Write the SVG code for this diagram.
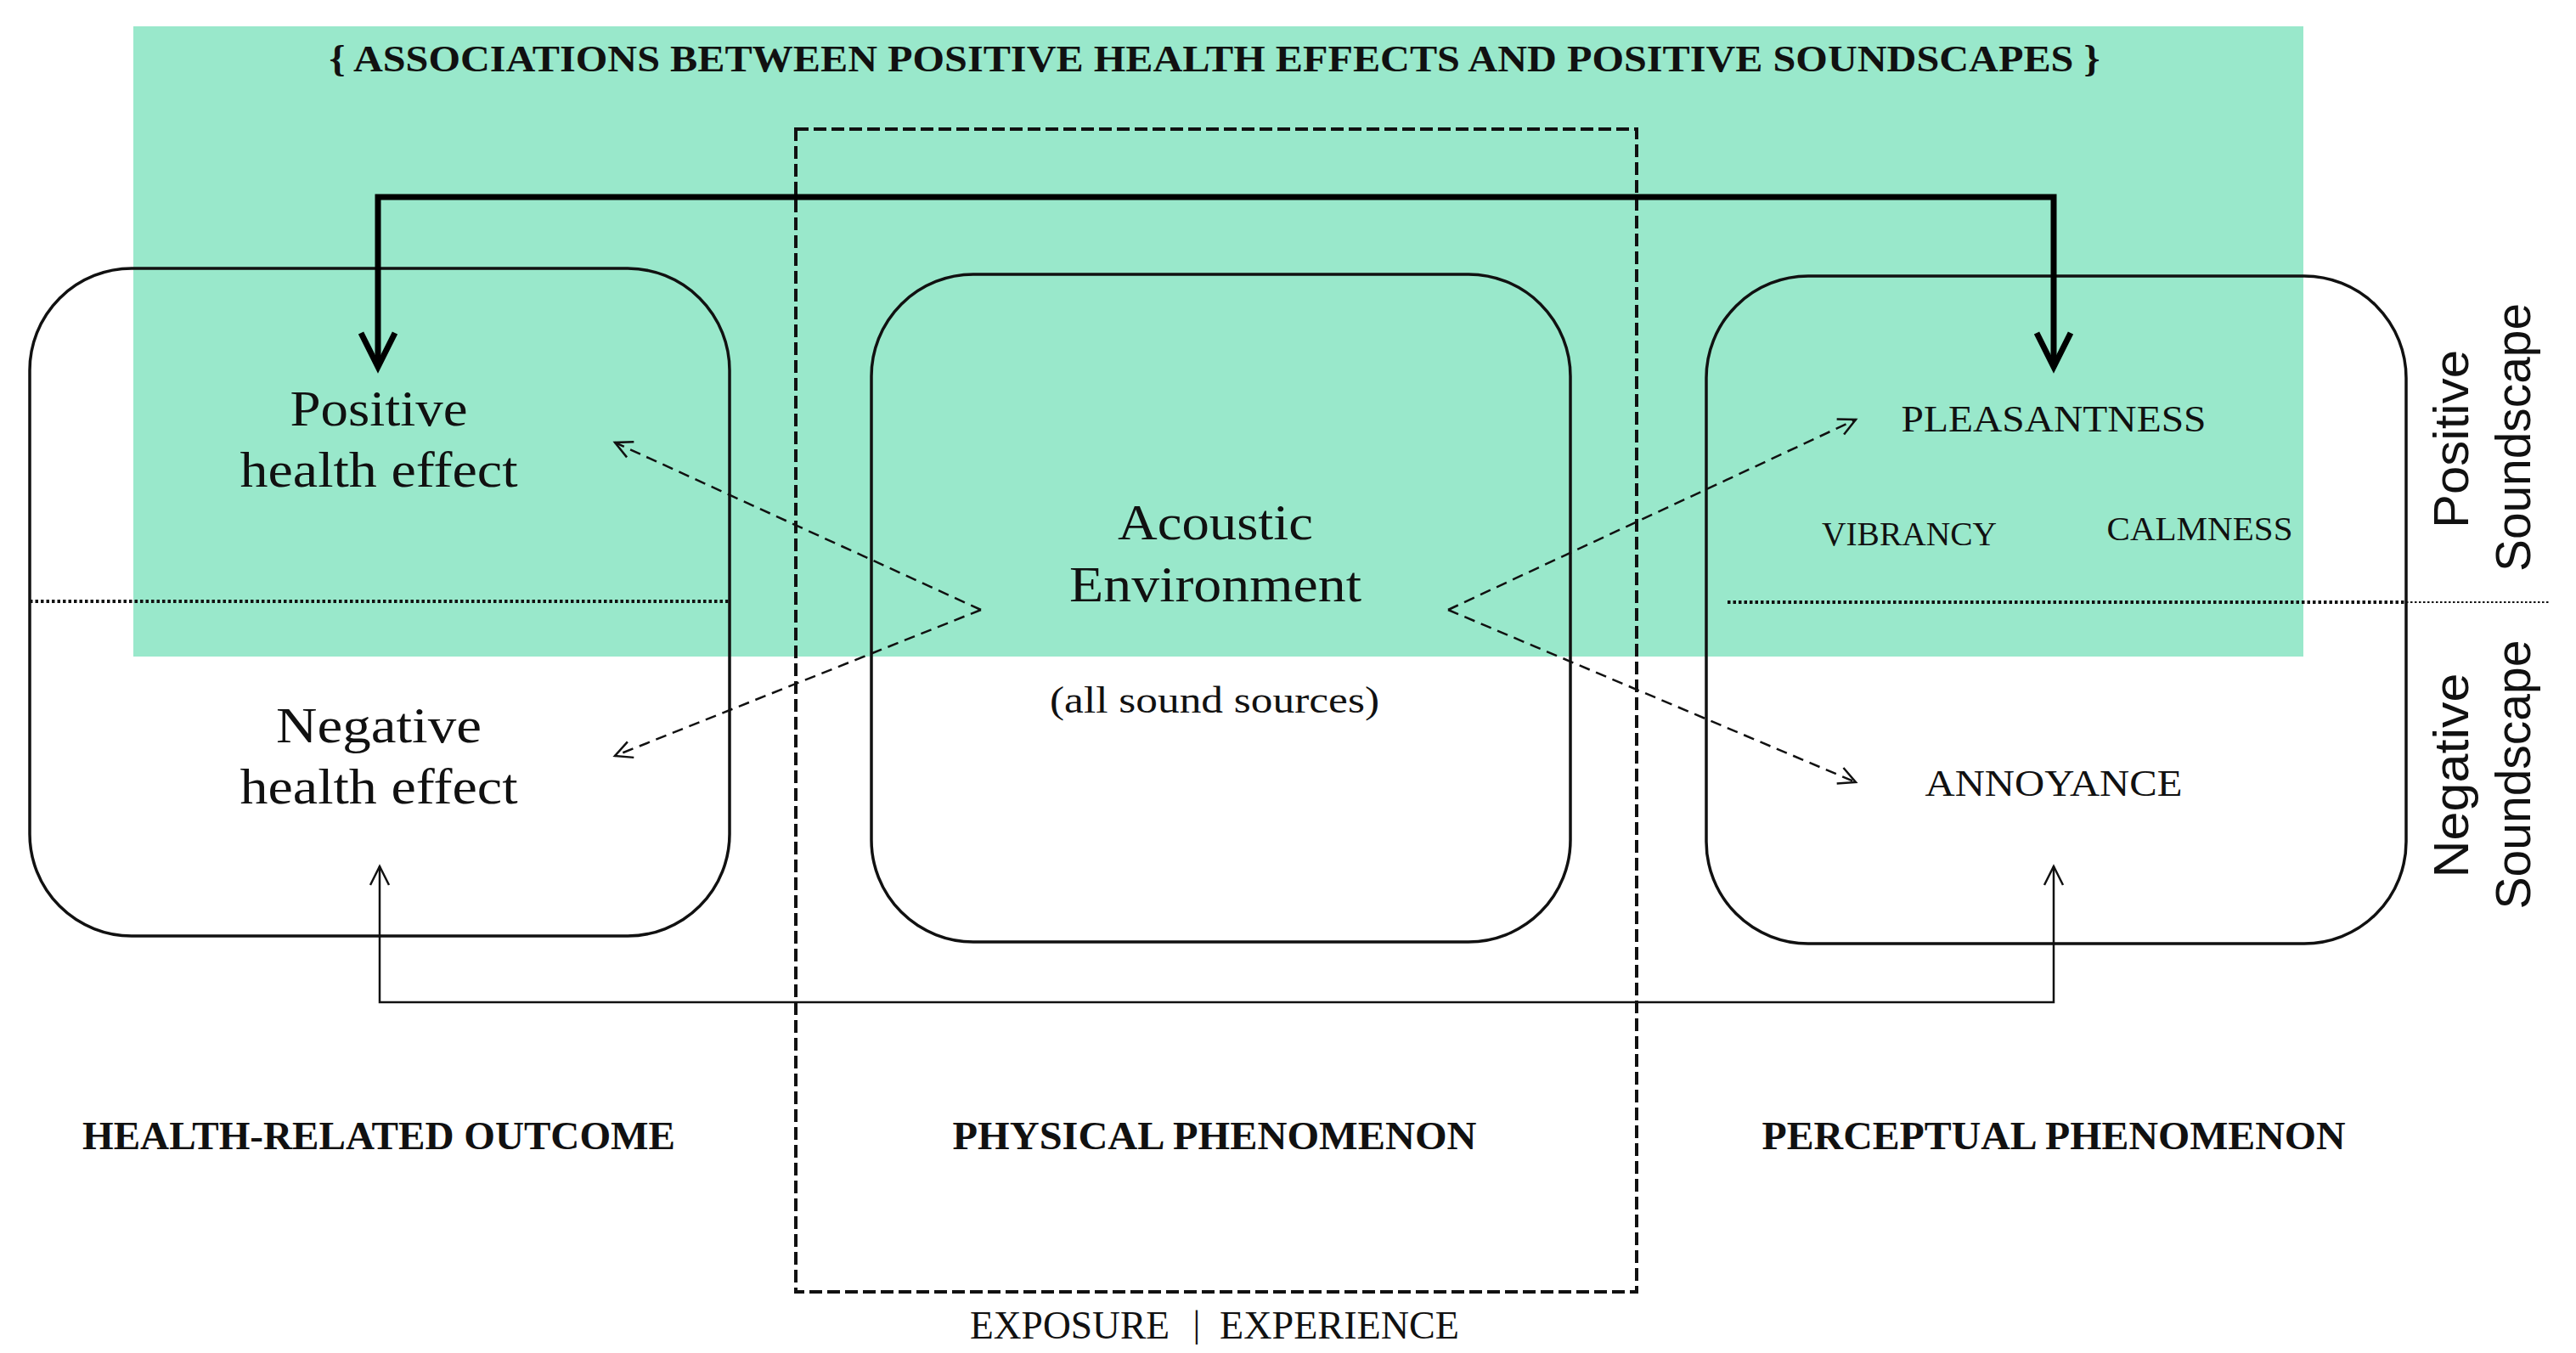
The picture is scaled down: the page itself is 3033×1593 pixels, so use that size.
<svg xmlns="http://www.w3.org/2000/svg" width="3033" height="1593" viewBox="0 0 3033 1593">
<style>
.serif{font-family:"Liberation Serif","Times New Roman",serif;fill:#111;}
.sans{font-family:"Liberation Sans",Arial,sans-serif;fill:#111;}
.b{font-weight:bold;}
.box{fill:none;stroke:#111;stroke-width:3.5;}
.thick{fill:none;stroke:#000;stroke-width:7;}
.thin{fill:none;stroke:#111;stroke-width:2.5;}
.dash{fill:none;stroke:#111;stroke-width:2.5;stroke-dasharray:13 8;}
.frame{fill:none;stroke:#111;stroke-width:4;stroke-dasharray:15 6;}
.dot{fill:none;stroke:#111;stroke-width:4;stroke-dasharray:3.5 3;}
.dot2{fill:none;stroke:#111;stroke-width:2;stroke-dasharray:2.5 2.5;}
</style>
<defs>
<marker id="headThick" markerUnits="userSpaceOnUse" viewBox="-50 -30 60 60" markerWidth="60" markerHeight="60" refX="0" refY="0" orient="auto-start-reverse">
<path d="M-40,-20 L0,0 L-40,20" fill="none" stroke="#000" stroke-width="7" stroke-linejoin="miter"/>
</marker>
<marker id="headThin" markerUnits="userSpaceOnUse" viewBox="-30 -15 36 30" markerWidth="36" markerHeight="30" refX="0" refY="0" orient="auto-start-reverse">
<path d="M-22,-11 L0,0 L-22,11" fill="none" stroke="#111" stroke-width="2.5"/>
</marker>
<marker id="headDash" markerUnits="userSpaceOnUse" viewBox="-30 -15 36 30" markerWidth="36" markerHeight="30" refX="0" refY="0" orient="auto">
<path d="M-20,-10 L0,0 L-20,10" fill="none" stroke="#111" stroke-width="2.5" stroke-dasharray="none"/>
</marker>
</defs>
<rect width="3033" height="1593" fill="#fff"/>
<g id="positive-band">
<rect x="157" y="31" width="2555" height="742" fill="#99E8CB"/>
<text class="serif b" x="1430" y="84" font-size="45" text-anchor="middle" textLength="2085" lengthAdjust="spacingAndGlyphs">{ ASSOCIATIONS BETWEEN POSITIVE HEALTH EFFECTS AND POSITIVE SOUNDSCAPES }</text>
</g>
<g id="exposure-frame">
<rect class="frame" x="937" y="152" width="990" height="1369"/>
<text class="serif" x="1142" y="1576" font-size="47" textLength="235" lengthAdjust="spacingAndGlyphs">EXPOSURE</text>
<text class="serif" x="1409" y="1574" font-size="44" text-anchor="middle">|</text>
<text class="serif" x="1436" y="1576" font-size="47" textLength="282" lengthAdjust="spacingAndGlyphs">EXPERIENCE</text>
</g>
<g id="health-outcome">
<rect class="box" x="35" y="316" width="824" height="786" rx="120" ry="120"/>
<line class="dot" x1="35" y1="708" x2="859" y2="708"/>
<text class="serif" x="446" y="501" font-size="60" text-anchor="middle" textLength="209" lengthAdjust="spacingAndGlyphs">Positive</text>
<text class="serif" x="446" y="573" font-size="60" text-anchor="middle" textLength="327" lengthAdjust="spacingAndGlyphs">health effect</text>
<text class="serif" x="446" y="874" font-size="60" text-anchor="middle" textLength="242" lengthAdjust="spacingAndGlyphs">Negative</text>
<text class="serif" x="446" y="946" font-size="60" text-anchor="middle" textLength="327" lengthAdjust="spacingAndGlyphs">health effect</text>
<text class="serif b" x="446" y="1353" font-size="47" text-anchor="middle" textLength="698" lengthAdjust="spacingAndGlyphs">HEALTH-RELATED OUTCOME</text>
</g>
<g id="acoustic-environment">
<rect class="box" x="1026" y="323" width="823" height="786" rx="120" ry="120"/>
<text class="serif" x="1431" y="635" font-size="60" text-anchor="middle" textLength="230" lengthAdjust="spacingAndGlyphs">Acoustic</text>
<text class="serif" x="1431" y="708" font-size="60" text-anchor="middle" textLength="344" lengthAdjust="spacingAndGlyphs">Environment</text>
<text class="serif" x="1430" y="839" font-size="44" text-anchor="middle" textLength="388" lengthAdjust="spacingAndGlyphs">(all sound sources)</text>
<text class="serif b" x="1430" y="1353" font-size="47" text-anchor="middle" textLength="617" lengthAdjust="spacingAndGlyphs">PHYSICAL PHENOMENON</text>
</g>
<g id="perceptual">
<rect class="box" x="2009" y="325" width="824" height="786" rx="120" ry="120"/>
<line class="dot" x1="2034" y1="709" x2="2833" y2="709"/>
<text class="serif" x="2418" y="508" font-size="45" text-anchor="middle" textLength="359" lengthAdjust="spacingAndGlyphs">PLEASANTNESS</text>
<text class="serif" x="2248" y="642" font-size="39" text-anchor="middle" textLength="206" lengthAdjust="spacingAndGlyphs">VIBRANCY</text>
<text class="serif" x="2590" y="636" font-size="39" text-anchor="middle" textLength="219" lengthAdjust="spacingAndGlyphs">CALMNESS</text>
<text class="serif" x="2418" y="937" font-size="45" text-anchor="middle" textLength="303" lengthAdjust="spacingAndGlyphs">ANNOYANCE</text>
<text class="serif b" x="2418" y="1353" font-size="47" text-anchor="middle" textLength="687" lengthAdjust="spacingAndGlyphs">PERCEPTUAL PHENOMENON</text>
</g>
<g id="soundscape-labels">
<line class="dot2" x1="2833" y1="709" x2="3001" y2="709"/>
<text class="sans" transform="translate(2906,517) rotate(-90)" font-size="58" text-anchor="middle" textLength="210" lengthAdjust="spacingAndGlyphs">Positive</text>
<text class="sans" transform="translate(2979,515) rotate(-90)" font-size="58" text-anchor="middle" textLength="316" lengthAdjust="spacingAndGlyphs">Soundscape</text>
<text class="sans" transform="translate(2906,913) rotate(-90)" font-size="58" text-anchor="middle" textLength="241" lengthAdjust="spacingAndGlyphs">Negative</text>
<text class="sans" transform="translate(2979,912) rotate(-90)" font-size="58" text-anchor="middle" textLength="317" lengthAdjust="spacingAndGlyphs">Soundscape</text>
</g>
<g id="connectors">
<path class="thick" d="M445,432 L445,232 L2418,232 L2418,432" marker-start="url(#headThick)" marker-end="url(#headThick)"/>
<path class="thin" d="M447,1020 L447,1180 L2418,1180 L2418,1020" marker-start="url(#headThin)" marker-end="url(#headThin)"/>
<path class="dash" d="M1155,718 L724,521" marker-end="url(#headDash)"/>
<path class="dash" d="M1155,718 L724,890" marker-end="url(#headDash)"/>
<path class="dash" d="M1705,718 L2185,494" marker-end="url(#headDash)"/>
<path class="dash" d="M1705,718 L2185,921" marker-end="url(#headDash)"/>
</g>
</svg>
